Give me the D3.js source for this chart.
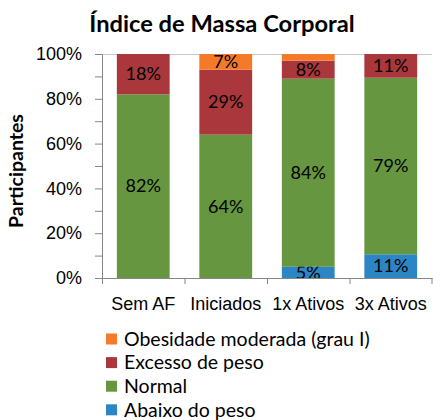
<!DOCTYPE html>
<html>
<head>
<meta charset="utf-8">
<script src="https://cdn.jsdelivr.net/npm/d3@7"></script>
<style>
  body { margin: 0; background: #fff; }
  svg { font-family: Lato, 'Open Sans', sans-serif; }
</style>
</head>
<body>
<svg id="chart" width="433" height="420"></svg>
<script>
// categories and series (percent of participants)
const categories = ['Sem AF', 'Iniciados', '1x Ativos', '3x Ativos'];
const abaixo = [0, 0, 5, 10.6];
const normal = [82, 64, 84, 78.8];
const excesso = [18, 29, 8, 10.6];
const obesidade = [0, 7, 3, 0];
const yTicks = [0, 20, 40, 60, 80, 100];

const seriesNames = ['Abaixo do peso', 'Normal', 'Excesso de peso', 'Obesidade moderada (grau I)'];
const seriesColors = ['#2c86c5', '#66963f', '#a9373b', '#f47a2a'];

const rows = categories.map((c, i) => ({
  cat: c,
  'Abaixo do peso': abaixo[i],
  'Normal': normal[i],
  'Excesso de peso': excesso[i],
  'Obesidade moderada (grau I)': obesidade[i],
}));

const svg = d3.select('#chart');
const margin = { left: 102, right: 1, top: 54, bottom: 142 };
const width = 433 - margin.left - margin.right;
const height = 420 - margin.top - margin.bottom;

const x = d3.scaleBand().domain(categories).range([0, width])
  .paddingInner(0.36).paddingOuter(0.18);
const y = d3.scaleLinear().domain([0, 100]).range([height, 0]);
const color = d3.scaleOrdinal().domain(seriesNames).range(seriesColors);

const g = svg.append('g').attr('transform', `translate(${margin.left},${margin.top})`);

// top border line
g.append('line')
  .attr('x1', 0).attr('x2', width)
  .attr('y1', y(100) + 0.5).attr('y2', y(100) + 0.5)
  .attr('stroke', '#c8c8c8');

const stack = d3.stack().keys(seriesNames);
const stacked = stack(rows);

const layers = g.selectAll('g.layer').data(stacked).enter().append('g')
  .attr('class', 'layer')
  .attr('fill', (d) => color(d.key));

layers.selectAll('rect').data((d) => d).enter().append('rect')
  .attr('x', (d) => x(d.data.cat))
  .attr('width', x.bandwidth())
  .attr('y', (d) => y(d[1]))
  .attr('height', (d) => y(d[0]) - y(d[1]));

// value labels (small segments are left unlabeled)
layers.selectAll('text').data((d) => d.filter((p) => p[1] - p[0] >= 4)).enter().append('text')
  .attr('x', (d) => x(d.data.cat) + x.bandwidth() / 2)
  .attr('y', (d) => (y(d[0]) + y(d[1])) / 2)
  .attr('dy', '0.35em')
  .attr('text-anchor', 'middle')
  .attr('font-size', 18)
  .attr('fill', '#000')
  .text((d) => Math.round(d[1] - d[0]) + '%');

// y axis
const yAxis = g.append('g')
  .call(d3.axisLeft(y).tickValues(d3.range(0, 101, 10)).tickSize(7).tickFormat((d) => yTicks.includes(d) ? d + '%' : ''));
yAxis.select('.domain').attr('stroke', '#868686');
yAxis.selectAll('.tick line').attr('stroke', '#868686');
yAxis.selectAll('.tick text').attr('font-size', 18).attr('fill', '#000').attr('x', -20);

// x axis
const xAxis = g.append('g').attr('transform', `translate(0,${height})`)
  .call(d3.axisBottom(x).tickSize(0));
xAxis.select('.domain').attr('stroke', '#868686');
xAxis.selectAll('.tick text').attr('font-size', 18).attr('fill', '#000').attr('dy', '1.6em');
// boundary ticks between categories
const step = x.step();
g.append('g').selectAll('line').data(d3.range(categories.length + 1)).enter().append('line')
  .attr('x1', (d) => Math.min(d * step, width - 0.5) + 0.5)
  .attr('x2', (d) => Math.min(d * step, width - 0.5) + 0.5)
  .attr('y1', height).attr('y2', height + 6)
  .attr('stroke', '#868686');

// title
svg.append('text')
  .attr('x', 222).attr('y', 32)
  .attr('text-anchor', 'middle')
  .attr('font-size', 23.7)
  .attr('font-weight', 'bold')
  .text('Índice de Massa Corporal');

// y axis title
svg.append('text')
  .attr('transform', 'translate(23,171) rotate(-90)')
  .attr('text-anchor', 'middle')
  .attr('font-size', 19.5)
  .attr('font-weight', 'bold')
  .text('Participantes');

// legend (top to bottom: reversed stacking order)
const legendItems = seriesNames.slice().reverse();
const legend = svg.append('g').attr('transform', 'translate(106,339)');
legendItems.forEach((name, i) => {
  const row = legend.append('g').attr('transform', `translate(0,${i * 23.6})`);
  row.append('rect').attr('x', 0).attr('y', -5.5).attr('width', 11).attr('height', 11).attr('fill', color(name));
  row.append('text').attr('x', 18).attr('y', 0).attr('dy', '0.35em')
    .attr('font-size', 19.5).attr('fill', '#000').text(name);
});
</script>
</body>
</html>
